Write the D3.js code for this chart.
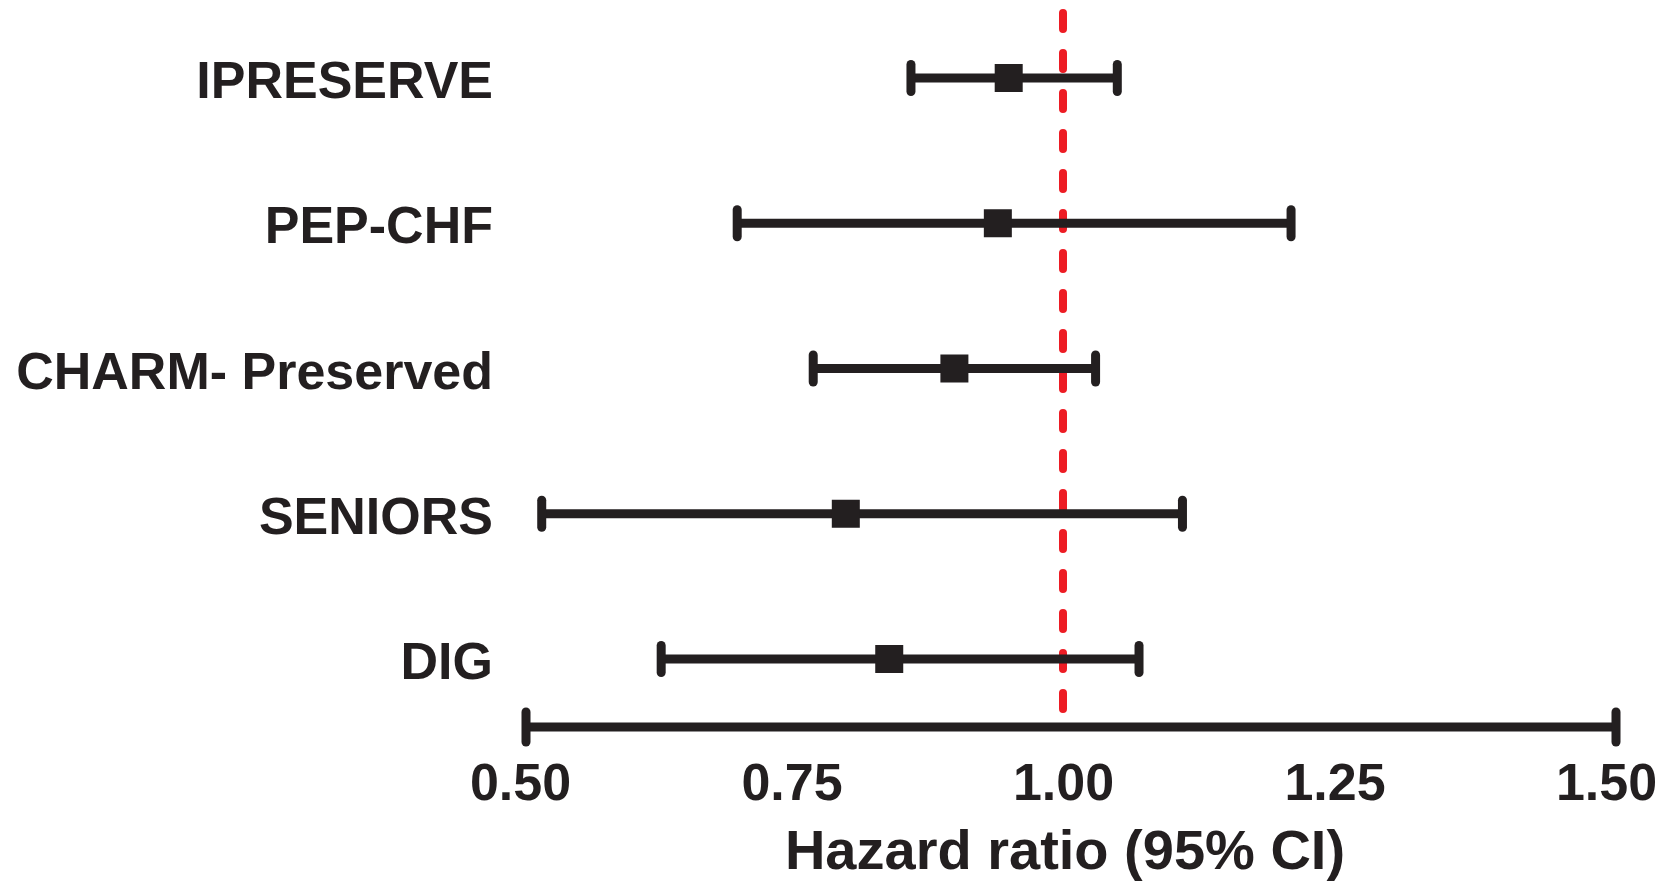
<!DOCTYPE html>
<html>
<head>
<meta charset="UTF-8">
<title>Hazard ratio forest plot</title>
<script src="https://d3js.org/d3.v7.min.js"></script>
<style>
body { margin: 0; background: #fff; }
svg text { font-family: "Liberation Sans", Arial, Helvetica, sans-serif; font-weight: bold; fill: #231f20; }
</style>
</head>
<body>
<svg id="chart" width="1675" height="887"></svg>
<script>

// Trials, top to bottom
var trials = ['IPRESERVE', 'PEP-CHF', 'CHARM- Preserved', 'SENIORS', 'DIG']
var hr     = [0.95, 0.94, 0.90, 0.80, 0.84]   // point estimate
var ciLow  = [0.86, 0.70, 0.77, 0.52, 0.63]
var ciHigh = [1.05, 1.21, 1.03, 1.11, 1.07]
var ticks  = [0.50, 0.75, 1.00, 1.25, 1.50]
var refValue = 1.00
var xTitle = 'Hazard ratio (95% CI)'

var W = 1675, H = 887
var black = '#231f20', red = '#ed1c24'
var axisY = 727
var capH = 35, sq = 28

var svg = d3.select('#chart')

var x = d3.scaleLinear().domain([0.5, 1.5]).range([520, 1606])
var y = d3.scalePoint().domain(trials).range([78, 659])

/* reference line at HR = 1 */
svg.append('line')
	.attr('x1', x(refValue)).attr('x2', x(refValue))
	.attr('y1', 13).attr('y2', axisY - 8)
	.style('stroke', red)
	.style('stroke-width', 8)
	.style('stroke-dasharray', '16,24')
	.style('stroke-linecap', 'round')

/* one row per trial: CI line with end caps and a square */
var rows = svg.selectAll('g.row')
	.data(trials)
	.enter()
	.append('g')
	.attr('class', 'row')
	.attr('transform', function(d) { return 'translate(0,' + y(d) + ')' })

rows.append('line')
	.attr('x1', function(d, i) { return x(ciLow[i]) })
	.attr('x2', function(d, i) { return x(ciHigh[i]) })
	.style('stroke', black)
	.style('stroke-width', 9)

rows.selectAll('line.cap')
	.data(function(d, i) { return [ciLow[i], ciHigh[i]] })
	.enter()
	.append('line')
	.attr('class', 'cap')
	.attr('x1', function(v) { return x(v) }).attr('x2', function(v) { return x(v) })
	.attr('y1', -capH / 2 + 4).attr('y2', capH / 2 - 4)
	.style('stroke', black)
	.style('stroke-width', 9)
	.style('stroke-linecap', 'round')

rows.append('rect')
	.attr('x', function(d, i) { return x(hr[i]) - sq / 2 })
	.attr('y', -sq / 2)
	.attr('width', sq).attr('height', sq)
	.style('fill', black)

rows.append('text')
	.attr('x', 493)
	.attr('y', 20)
	.attr('text-anchor', 'end')
	.style('font-size', '52px')
	.text(function(d) { return d })

/* x axis: thick line with caps, labels from d3 axis */
var axisLeft = x(ticks[0]) + 6, axisRight = x(ticks[ticks.length - 1]) + 10
svg.append('line')
	.attr('x1', axisLeft).attr('x2', axisRight)
	.attr('y1', axisY).attr('y2', axisY)
	.style('stroke', black)
	.style('stroke-width', 9)
svg.selectAll('line.axcap')
	.data([axisLeft, axisRight])
	.enter()
	.append('line')
	.attr('class', 'axcap')
	.attr('x1', function(d) { return d }).attr('x2', function(d) { return d })
	.attr('y1', axisY - 15).attr('y2', axisY + 15)
	.style('stroke', black)
	.style('stroke-width', 9)
	.style('stroke-linecap', 'round')

var axis = d3.axisBottom(x)
	.tickValues(ticks)
	.tickFormat(d3.format('.2f'))
	.tickSize(0)
	.tickPadding(0)
var gx = svg.append('g')
	.attr('transform', 'translate(0,' + axisY + ')')
	.call(axis)
gx.select('.domain').remove()
gx.selectAll('text')
	.attr('dy', null)
	.attr('y', 73)
	.style('font-size', '52px')
	.style('font-family', '"Liberation Sans", Arial, Helvetica, sans-serif')
	.style('fill', black)

svg.append('text')
	.attr('x', 1065)
	.attr('y', 869)
	.attr('text-anchor', 'middle')
	.style('font-size', '56px')
	.text(xTitle)

</script>
</body>
</html>
